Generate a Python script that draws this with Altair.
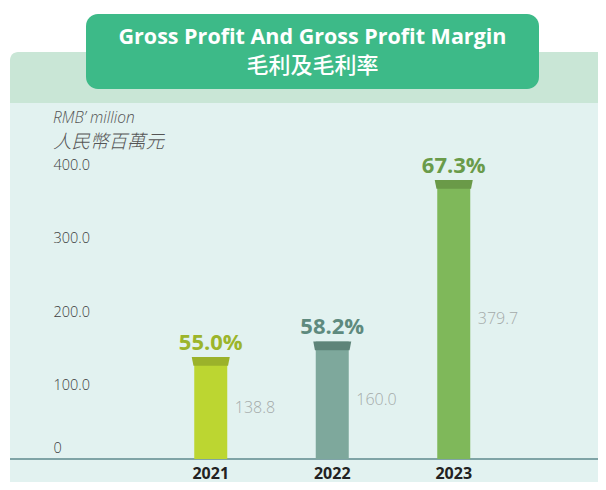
import altair as alt
import pandas as pd

# ---- data ----
years = ["2021", "2022", "2023"]
gross_profit = [138.8, 160.0, 379.7]          # RMB' million
gross_margin = [55.0, 58.2, 67.3]             # %
y_ticks = [0, 100, 200, 300, 400]

title_en = "Gross Profit And Gross Profit Margin"
title_zh = "毛利及毛利率"
unit_en = "RMB’ million"
unit_zh = "人民幣百萬元"

# ---- styles ----
body_colors = ["#bcd631", "#7ea89c", "#7fb85a"]
cap_colors = ["#9bb22a", "#5e8479", "#6a9a48"]
pct_colors = ["#9cb52b", "#5e8a7e", "#6a9b4a"]

df = pd.DataFrame({"year": years, "gp": gross_profit, "margin": gross_margin})
one = pd.DataFrame({"k": [0]})

# canvas (page minus the 8px body margin) and plot area geometry
CW, CH = 590, 474
W, H = 364.5, 294
X0, Y0 = 150, 165          # page coordinates of the plot origin


def px(x):
    return x - X0


def py(y):
    return y - Y0


xs = alt.Scale(domain=years, paddingInner=0, paddingOuter=0)
ys = alt.Scale(domain=[0, 400])

x_axis = alt.Axis(
    title=None, labelAngle=0, ticks=False, tickSize=0, domain=False, grid=False, zindex=2,
    labelFont="Open Sans", labelFontWeight="bold", labelFontSize=16,
    labelColor="#222222", labelPadding=6)
y_axis = alt.Axis(
    values=y_ticks, title=None, ticks=False, tickSize=0, domain=False, grid=False, zindex=2,
    labelAlign="left", labelBaseline="middle", labelPadding=97, labelFlush=False,
    labelOverlap=False, labelFont="Open Sans", labelFontWeight=300, labelFontSize=14.5,
    labelColor="#3d3d3d",
    labelExpr="datum.value == 0 ? '0' : format(datum.value, '.1f')",
    labelOffset={"condition": {"test": "datum.value === 0", "value": -11}, "value": 0})

X = alt.X("year:N", scale=xs, sort=years, axis=x_axis)

header = alt.Chart(one).mark_rect(color="#c9e6d6", cornerRadius=8).encode(
    x=alt.value(px(10)), x2=alt.value(px(612)), y=alt.value(py(52)), y2=alt.value(py(560))
)
body = alt.Chart(one).mark_rect(color="#e2f2f0").encode(
    x=alt.value(px(10)), x2=alt.value(px(612)), y=alt.value(py(103)), y2=alt.value(py(560))
)
tbox = alt.Chart(one).mark_rect(color="#3dba88", cornerRadius=12).encode(
    x=alt.value(px(86)), x2=alt.value(px(539)), y=alt.value(py(14)), y2=alt.value(py(89))
)
t1 = alt.Chart(one).mark_text(
    font="Open Sans", fontWeight="bold", fontSize=21.5, color="white",
    align="center", baseline="alphabetic"
).encode(x=alt.value(px(312.5)), y=alt.value(py(44)), text=alt.value(title_en))
t2 = alt.Chart(one).mark_text(
    font="Noto Sans CJK TC", fontWeight=500, fontSize=22, color="white",
    align="center", baseline="middle"
).encode(x=alt.value(px(312.5)), y=alt.value(py(66)), text=alt.value(title_zh))
u1 = alt.Chart(one).mark_text(
    font="Open Sans", fontStyle="italic", fontWeight=300, fontSize=15.5, color="#555555",
    align="left", baseline="alphabetic"
).encode(x=alt.value(px(53)), y=alt.value(py(123)), text=alt.value(unit_en))
u2 = alt.Chart(one).mark_text(
    font="Noto Sans CJK TC", fontStyle="italic", fontWeight=300, fontSize=18.5, color="#555555",
    align="left", baseline="middle"
).encode(x=alt.value(px(53)), y=alt.value(py(142)), text=alt.value(unit_zh))

baseline_rule = alt.Chart(one).mark_rule(color="#5e8a8e", strokeWidth=1.5).encode(
    x=alt.value(px(10)), x2=alt.value(px(612)), y=alt.value(H)
)

bars = alt.Chart(df).mark_bar(size=33).encode(
    x=X,
    y=alt.Y("gp:Q", scale=ys, axis=y_axis),
    color=alt.Color("year:N", scale=alt.Scale(domain=years, range=body_colors), legend=None),
)

caps = alt.Chart(df).mark_point(
    shape="M-1,-0.23L1,-0.23L0.91,0.23L-0.91,0.23Z", size=1444, filled=True,
    opacity=1, strokeWidth=0, yOffset=4.5
).encode(
    x=X,
    y=alt.Y("gp:Q", scale=ys, axis=y_axis),
    color=alt.Color("year:N", scale=alt.Scale(domain=years, range=cap_colors), legend=None),
)

pct = alt.Chart(df).transform_calculate(
    lab="format(datum.margin, '.1f') + '%'"
).mark_text(
    font="Open Sans", fontWeight="bold", fontSize=22, dy=-7, baseline="alphabetic", align="center"
).encode(
    x=X,
    y=alt.Y("gp:Q", scale=ys, axis=y_axis),
    text="lab:N",
    color=alt.Color("year:N", scale=alt.Scale(domain=years, range=pct_colors), legend=None),
)

vals = alt.Chart(df).transform_calculate(
    half="datum.gp / 2"
).mark_text(
    font="Open Sans", fontWeight=300, fontSize=16, color="#a4aaa9",
    align="left", baseline="middle", dx=24
).encode(
    x=X,
    y=alt.Y("half:Q", scale=ys, axis=y_axis),
    text=alt.Text("gp:Q", format=".1f"),
)

chart = alt.layer(
    header, body, tbox, t1, t2, u1, u2, baseline_rule, bars, caps, pct, vals
).resolve_scale(color="independent").properties(
    width=W, height=H,
    autosize=alt.AutoSizeParams(type="none"),
    padding={"left": X0 - 8, "top": Y0 - 8,
             "right": CW - (X0 - 8) - W, "bottom": CH - (Y0 - 8) - H},
    background="white",
).configure_view(stroke=None)

chart.save("out.html", embed_options={"renderer": "svg", "actions": False})
